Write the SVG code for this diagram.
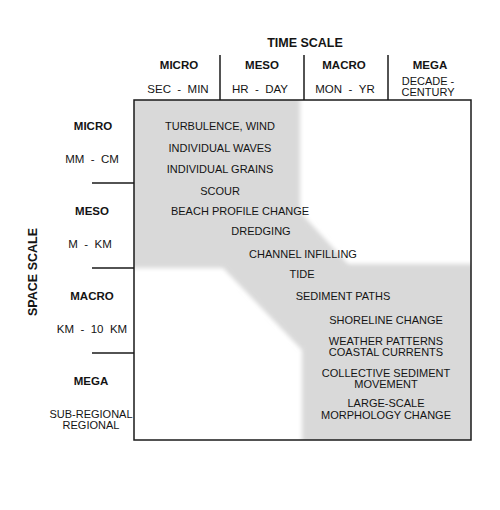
<svg xmlns="http://www.w3.org/2000/svg" width="500" height="510" viewBox="0 0 500 510">
<defs>
<style>
text { font-family: "Liberation Sans", Arial, sans-serif; fill: #141414; text-anchor: middle; }
.title { font-size: 12.5px; font-weight: bold; }
.hd { font-size: 11.5px; font-weight: bold; }
.sub { font-size: 11px; }
.sub2 { font-size: 11.5px; }
.ev { font-size: 11px; }
.ln { stroke: #1a1a1a; stroke-width: 1.5; fill: none; }
</style>
<filter id="soft" x="-5%" y="-5%" width="110%" height="110%">
<feGaussianBlur stdDeviation="2"/>
</filter>
<clipPath id="boxclip"><rect x="134" y="100" width="337" height="340"/></clipPath>
</defs>
<rect x="0" y="0" width="500" height="510" fill="#ffffff"/>

<g id="shading" clip-path="url(#boxclip)">
<polygon points="130,96 300,96 300,212 348,264 476,264 476,444 302,444 302,350 223,268 130,268" fill="#d9d9d9" filter="url(#soft)"/>
</g>

<g id="grid">
<rect class="ln" x="134" y="100" width="337" height="340"/>
<line class="ln" x1="220" y1="55" x2="220" y2="100"/>
<line class="ln" x1="304" y1="55" x2="304" y2="100"/>
<line class="ln" x1="388" y1="55" x2="388" y2="100"/>
<line class="ln" x1="92" y1="183" x2="134" y2="183"/>
<line class="ln" x1="92" y1="268" x2="134" y2="268"/>
<line class="ln" x1="92" y1="353" x2="134" y2="353"/>
</g>

<g id="connectors"></g>

<g id="time-scale"><text class="title" x="305" y="47">TIME SCALE</text></g>
<g id="space-scale"><text class="title" x="0" y="0" transform="translate(37,272) rotate(-90)">SPACE SCALE</text></g>

<g id="col-micro"><text class="hd" x="179" y="69">MICRO</text><text class="sub2" x="178" y="93">SEC&#160;&#160;-&#160;&#160;MIN</text></g>
<g id="col-meso"><text class="hd" x="262" y="69">MESO</text><text class="sub2" x="260" y="93">HR&#160;&#160;-&#160;&#160;DAY</text></g>
<g id="col-macro"><text class="hd" x="344" y="69">MACRO</text><text class="sub2" x="345" y="93">MON&#160;&#160;-&#160;&#160;YR</text></g>
<g id="col-mega"><text class="hd" x="430" y="69">MEGA</text><text class="sub" x="428" y="85">DECADE -</text><text class="sub" x="428" y="96">CENTURY</text></g>

<g id="row-micro"><text class="hd" x="93" y="130">MICRO</text><text class="sub2" x="92" y="163">MM&#160;&#160;-&#160;&#160;CM</text></g>
<g id="row-meso"><text class="hd" x="92" y="215">MESO</text><text class="sub2" x="90" y="248">M&#160;&#160;-&#160;&#160;KM</text></g>
<g id="row-macro"><text class="hd" x="92" y="300">MACRO</text><text class="sub2" x="92" y="333">KM&#160;&#160;-&#160;&#160;10&#160;&#160;KM</text></g>
<g id="row-mega"><text class="hd" x="91" y="385">MEGA</text><text class="sub" x="91" y="418">SUB-REGIONAL</text><text class="sub" x="91" y="429">REGIONAL</text></g>

<g id="ev-turbulence"><text class="ev" x="220" y="130">TURBULENCE, WIND</text></g>
<g id="ev-waves"><text class="ev" x="220" y="152">INDIVIDUAL WAVES</text></g>
<g id="ev-grains"><text class="ev" x="220" y="173">INDIVIDUAL GRAINS</text></g>
<g id="ev-scour"><text class="ev" x="220" y="195">SCOUR</text></g>
<g id="ev-beach"><text class="ev" x="240" y="215">BEACH PROFILE CHANGE</text></g>
<g id="ev-dredging"><text class="ev" x="261" y="235">DREDGING</text></g>
<g id="ev-channel"><text class="ev" x="303" y="258">CHANNEL INFILLING</text></g>
<g id="ev-tide"><text class="ev" x="302" y="278">TIDE</text></g>
<g id="ev-sediment"><text class="ev" x="343" y="300">SEDIMENT PATHS</text></g>
<g id="ev-shoreline"><text class="ev" x="386" y="324">SHORELINE CHANGE</text></g>
<g id="ev-weather"><text class="ev" x="386" y="345">WEATHER PATTERNS</text><text class="ev" x="386" y="356">COASTAL CURRENTS</text></g>
<g id="ev-collective"><text class="ev" x="386" y="377">COLLECTIVE SEDIMENT</text><text class="ev" x="386" y="388">MOVEMENT</text></g>
<g id="ev-morphology"><text class="ev" x="386" y="407">LARGE-SCALE</text><text class="ev" x="386" y="419">MORPHOLOGY CHANGE</text></g>
</svg>
